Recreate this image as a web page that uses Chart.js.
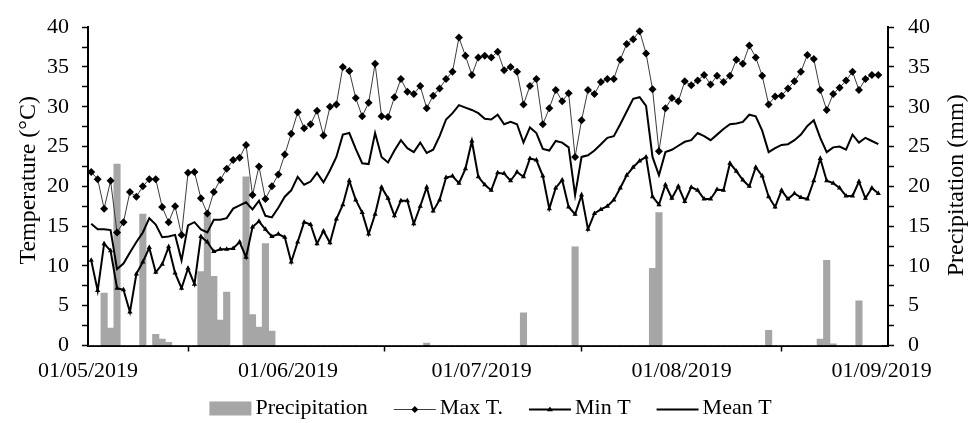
<!DOCTYPE html>
<html>
<head>
<meta charset="utf-8">
<script src="https://cdn.jsdelivr.net/npm/chart.js@4.4.1/dist/chart.umd.min.js"></script>
<style>
  html, body { margin: 0; padding: 0; background: #fff; }
  #wrap { width: 973px; height: 423px; }
</style>
</head>
<body>
<div id="wrap"><canvas id="c" width="973" height="423"></canvas></div>
<script>
// Daily weather, 1 May – 31 August 2019 (one value per day, day 0 = 01/05/2019)
const tickDays = [0, 31, 61, 92, 123];
const tickLabels = ['01/05/2019', '01/06/2019', '01/07/2019', '01/08/2019', '01/09/2019'];

const maxT = [
  21.8, 20.9, 17.2, 20.7, 14.2, 15.5, 19.3, 18.7, 20.0, 20.9,
  20.9, 17.4, 15.5, 17.5, 13.9, 21.7, 21.8, 18.5, 16.6, 19.3,
  20.8, 22.2, 23.3, 23.6, 25.2, 18.9, 22.5, 18.4, 20.0, 21.5,
  24.0, 26.6, 29.3, 27.3, 27.8, 29.5, 26.4, 30.0, 30.3, 35.0,
  34.5, 31.1, 28.8, 30.5, 35.4, 28.8, 28.7, 31.2, 33.5, 31.9,
  31.6, 32.6, 29.8, 31.4, 32.3, 33.5, 34.4, 38.7, 36.4, 34.0,
  36.2, 36.4, 36.2, 36.9, 34.6, 35.0, 34.4, 30.3, 32.6, 33.5,
  27.8, 29.8, 32.1, 30.7, 31.7, 23.7, 28.3, 32.1, 31.6, 33.1,
  33.5, 33.5, 35.9, 37.9, 38.5, 39.5, 36.7, 32.2, 24.4, 29.8,
  31.1, 30.7, 33.2, 32.7, 33.3, 34.0, 32.8, 33.9, 33.1, 33.9,
  35.9, 35.4, 37.7, 36.2, 33.9, 30.3, 31.3, 31.4, 32.3, 33.2,
  34.4, 36.5, 36.0, 32.1, 29.6, 31.6, 32.4, 33.3, 34.4, 32.1,
  33.5, 34.0, 34.0
];

const minT = [
  10.7, 6.9, 12.8, 11.9, 7.2, 7.0, 4.2, 9.0, 10.5, 12.3,
  9.2, 10.2, 12.4, 9.1, 7.2, 9.7, 7.7, 13.7, 13.0, 11.8,
  12.1, 12.1, 12.2, 13.0, 11.1, 14.9, 15.6, 14.6, 13.7, 14.0,
  13.6, 10.5, 13.0, 15.5, 15.2, 12.8, 14.4, 12.9, 15.9, 17.7,
  20.7, 18.3, 16.7, 14.0, 16.5, 19.9, 18.5, 16.3, 18.2, 18.2,
  15.3, 17.5, 19.9, 16.9, 18.3, 21.1, 21.3, 20.4, 22.2, 25.7,
  21.2, 20.2, 19.5, 21.7, 21.6, 20.7, 21.8, 21.2, 23.5, 23.3,
  21.3, 17.2, 19.8, 20.8, 17.4, 16.5, 18.9, 14.6, 16.6, 17.1,
  17.5, 18.3, 19.8, 21.4, 22.4, 23.2, 23.7, 18.7, 17.7, 20.2,
  18.5, 20.0, 18.1, 19.9, 19.5, 18.4, 18.4, 19.6, 19.5, 22.9,
  21.9, 20.8, 20.0, 22.4, 21.3, 18.7, 17.4, 19.5, 18.4, 19.1,
  18.6, 18.4, 20.7, 23.5, 20.7, 20.4, 19.8, 18.8, 18.8, 20.6,
  18.5, 19.8, 19.1
];

const meanT = [
  15.3, 14.6, 14.6, 14.5, 9.6, 10.3, 11.7, 13.0, 14.2, 16.0,
  15.2, 13.6, 13.7, 13.9, 10.7, 15.1, 15.5, 14.6, 14.2, 15.8,
  15.8, 16.0, 17.2, 17.6, 18.0, 17.1, 18.2, 16.3, 16.1, 17.3,
  18.7, 19.5, 21.2, 20.2, 20.6, 21.7, 20.5, 22.0, 23.7, 26.5,
  26.7, 24.7, 22.9, 22.8, 26.7, 23.7, 23.0, 24.5, 25.8, 24.8,
  24.3, 25.5, 24.2, 24.6, 26.3, 28.4, 29.2, 30.2, 29.9, 29.6,
  29.2, 28.5, 28.4, 29.0, 27.8, 28.1, 27.8, 25.5, 27.4, 26.7,
  24.7, 24.5, 25.7, 25.5, 24.9, 18.9, 23.7, 23.9, 24.5, 25.3,
  26.1, 26.3, 27.8, 29.4, 31.0, 31.2, 30.1, 23.7, 21.4, 24.3,
  24.6, 25.1, 25.6, 25.8, 26.7, 26.3, 25.8, 26.5, 27.2, 27.8,
  27.9, 28.1, 29.0, 28.8, 27.0, 24.3, 24.8, 25.2, 25.3, 25.8,
  26.5, 27.6, 28.3, 26.1, 24.3, 24.9, 25.0, 24.6, 26.5, 25.5,
  26.1, 25.7, 25.3
];

const precipitation = [
  0, 0, 6.6, 2.2, 22.8, 0, 0, 0, 16.5, 0,
  1.4, 0.8, 0.4, 0, 0, 0, 0, 9.3, 16.4, 8.7,
  3.2, 6.7, 0, 0, 21.2, 3.9, 2.3, 12.8, 1.8, 0,
  0, 0, 0, 0, 0, 0, 0, 0, 0, 0,
  0, 0, 0, 0, 0, 0, 0, 0, 0, 0,
  0, 0, 0.3, 0, 0, 0, 0, 0, 0, 0,
  0, 0, 0, 0, 0, 0, 0, 4.1, 0, 0,
  0, 0, 0, 0, 0, 12.4, 0, 0, 0, 0,
  0, 0, 0, 0, 0, 0, 0, 9.7, 16.7, 0,
  0, 0, 0, 0, 0, 0, 0, 0, 0, 0,
  0, 0, 0, 0, 0, 1.9, 0, 0, 0, 0,
  0, 0, 0, 0.8, 10.7, 0.2, 0, 0, 0, 5.6,
  0, 0, 0
];

const serif = "'Liberation Serif', 'Times New Roman', serif";
const barGrey = '#a6a6a6';

// each daily value sits in the middle of its day on the date axis
const perDay = arr => arr.map((v, i) => ({ x: i + 0.5, y: v }));

// Axis titles, both reading bottom-to-top
const axisTitles = {
  id: 'axisTitles',
  afterDraw(chart) {
    const { ctx, chartArea } = chart;
    const cy = (chartArea.top + chartArea.bottom) / 2;
    ctx.save();
    ctx.font = '24px ' + serif;
    ctx.fillStyle = '#000';
    ctx.textAlign = 'center';
    ctx.textBaseline = 'middle';
    ctx.save();
    ctx.translate(chartArea.left - 59, cy - 6);
    ctx.rotate(-Math.PI / 2);
    ctx.fillText('Temperature (°C)', 0, 0);
    ctx.restore();
    ctx.save();
    ctx.translate(chartArea.right + 69, cy - 1);
    ctx.rotate(-Math.PI / 2);
    ctx.fillText('Precipitation (mm)', 0, 0);
    ctx.restore();
    ctx.restore();
  }
};

// Legend row under the date axis: line segment with the series marker
const legendRow = {
  id: 'legendRow',
  afterDraw(chart) {
    const { ctx, chartArea } = chart;
    const order = ['Precipitation', 'Max T.', 'Min T', 'Mean T'];
    const sets = order.map(l => chart.data.datasets.find(d => d.label === l));
    const sw = 42, gap = 4, between = 26;
    ctx.save();
    ctx.font = '22px ' + serif;
    ctx.textBaseline = 'middle';
    const widths = sets.map(d => sw + gap + ctx.measureText(d.label).width);
    const total = widths.reduce((a, b) => a + b, 0) + between * (sets.length - 1);
    let x = chart.width / 2 - total / 2 + 4;
    const y = chartArea.bottom + 63;
    sets.forEach((d, i) => {
      if (d.type === 'bar') {
        ctx.fillStyle = d.backgroundColor;
        ctx.fillRect(x, y - 7, sw, 14);
      } else {
        ctx.strokeStyle = d.borderColor;
        ctx.lineWidth = d.borderWidth;
        ctx.beginPath();
        ctx.moveTo(x, y + 1);
        ctx.lineTo(x + sw, y + 1);
        ctx.stroke();
        const cx = x + sw / 2, my = y + 1;
        ctx.fillStyle = '#000';
        if (d.pointStyle === 'rectRot') {
          const r = 3.5;
          ctx.beginPath();
          ctx.moveTo(cx, my - r); ctx.lineTo(cx + r, my); ctx.lineTo(cx, my + r); ctx.lineTo(cx - r, my);
          ctx.closePath(); ctx.fill();
        } else if (d.pointStyle === 'triangle') {
          const r = 3;
          ctx.beginPath();
          ctx.moveTo(cx, my - r); ctx.lineTo(cx + r, my + r * 0.6); ctx.lineTo(cx - r, my + r * 0.6);
          ctx.closePath(); ctx.fill();
        }
      }
      ctx.fillStyle = '#000';
      ctx.fillText(d.label, x + sw + gap, y);
      x += widths[i] + between;
    });
    ctx.restore();
  }
};

Chart.defaults.font.family = serif;
Chart.defaults.font.size = 22;
Chart.defaults.color = '#000';

const axisGrid = { drawOnChartArea: false, drawTicks: true, tickLength: 6, tickColor: '#000', tickWidth: 1.5 };
const axisBorder = { display: true, color: '#000', width: 2 };

new Chart(document.getElementById('c'), {
  type: 'line',
  data: {
    datasets: [
      {
        type: 'line', label: 'Max T.', data: perDay(maxT), yAxisID: 'y',
        borderColor: '#3c3c3c', borderWidth: 1, tension: 0,
        pointStyle: 'rectRot', pointRadius: 4, pointBackgroundColor: '#000',
        pointBorderColor: '#000', pointBorderWidth: 0, order: 1
      },
      {
        type: 'line', label: 'Min T', data: perDay(minT), yAxisID: 'y',
        borderColor: '#000', borderWidth: 2, tension: 0,
        pointStyle: 'triangle', pointRadius: 3, pointBackgroundColor: '#000',
        pointBorderColor: '#000', pointBorderWidth: 0, order: 2
      },
      {
        type: 'line', label: 'Mean T', data: perDay(meanT), yAxisID: 'y',
        borderColor: '#000', borderWidth: 2, tension: 0, pointRadius: 0, order: 3
      },
      {
        type: 'bar', label: 'Precipitation', data: perDay(precipitation), yAxisID: 'y1',
        backgroundColor: barGrey, borderWidth: 0, barPercentage: 1, categoryPercentage: 1, order: 10
      }
    ]
  },
  options: {
    responsive: false,
    animation: false,
    layout: { padding: { top: 22.5, left: 0, right: 0, bottom: 0 } },
    plugins: { legend: { display: false }, tooltip: { enabled: false } },
    scales: {
      x: {
        type: 'linear', min: 0, max: 124, offset: false,
        afterBuildTicks: s => { s.ticks = tickDays.map(v => ({ value: v })); },
        ticks: {
          callback: v => { const k = tickDays.indexOf(v); return k >= 0 ? tickLabels[k] : ''; },
          padding: 7, maxRotation: 0, autoSkip: false
        },
        grid: axisGrid,
        border: axisBorder,
        afterFit: s => { s.height = 77.5; }
      },
      y: {
        position: 'left', min: 0, max: 40,
        ticks: { stepSize: 2.5, autoSkip: false, padding: 13, callback: v => (v % 5 === 0 ? v : '') },
        grid: axisGrid,
        border: axisBorder,
        afterFit: s => { s.width = 88; }
      },
      y1: {
        position: 'right', min: 0, max: 40,
        ticks: { stepSize: 2.5, autoSkip: false, padding: 14, callback: v => (v % 5 === 0 ? v : '') },
        grid: axisGrid,
        border: axisBorder,
        afterFit: s => { s.width = 85; }
      }
    }
  },
  plugins: [axisTitles, legendRow]
});
</script>
</body>
</html>
